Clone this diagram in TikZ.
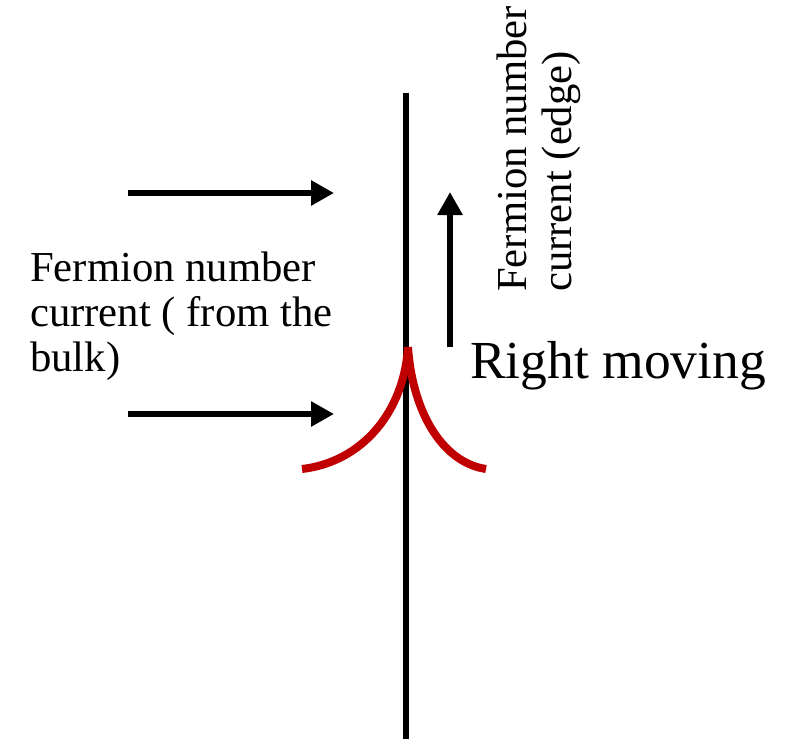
\documentclass[tikz,border=0pt]{standalone}
\usepackage{fontspec}
\setmainfont{Liberation Serif}
\usetikzlibrary{arrows.meta}
\definecolor{edgered}{RGB}{192,0,0}
\tikzset{
  wire/.style={line width=6pt, black},
  redcurve/.style={line width=8pt, edgered, line cap=butt},
  flowarrow/.style={line width=6pt, black, -{Triangle[length=23pt,width=24pt]}},
  lbl/.style={font=\fontsize{42.7}{45}\selectfont, inner sep=0pt, align=left},
  biglbl/.style={font=\fontsize{53.5}{60}\selectfont, inner sep=0pt}
}
\begin{document}
\begin{tikzpicture}[x=1pt,y=-1pt]
\useasboundingbox (0,0) rectangle (794,739);
% edge line
\coordinate (edgeTop) at (406,93);
\coordinate (edgeBot) at (406,739);
\draw[wire] (edgeTop) -- (edgeBot);
% red dispersion
\coordinate (cusp) at (408,347);
\coordinate (redL) at (302,469);
\coordinate (redR) at (486,469);
\draw[redcurve] (cusp) .. controls (404,412) and (362,462) .. (redL);
\draw[redcurve] (cusp) .. controls (412,408) and (440,462) .. (redR);
% bulk arrows
\coordinate (a1s) at (128,193);
\coordinate (a1e) at (334,193);
\coordinate (a2s) at (128,414);
\coordinate (a2e) at (334,414);
\draw[flowarrow] (a1s) -- (a1e);
\draw[flowarrow] (a2s) -- (a2e);
% edge arrow
\coordinate (a3s) at (450,347);
\coordinate (a3e) at (450,192);
\draw[flowarrow] (a3s) -- (a3e);
% labels
\node[lbl, anchor=base west] (bulk) at (30,371) {Fermion number\\current ( from the\\bulk)};
\node[lbl, anchor=base west, rotate=90] (edge) at (571,292) {Fermion number\\current (edge)};
\node[biglbl, anchor=base west] (right) at (470,378) {Right moving};
\end{tikzpicture}
\end{document}
